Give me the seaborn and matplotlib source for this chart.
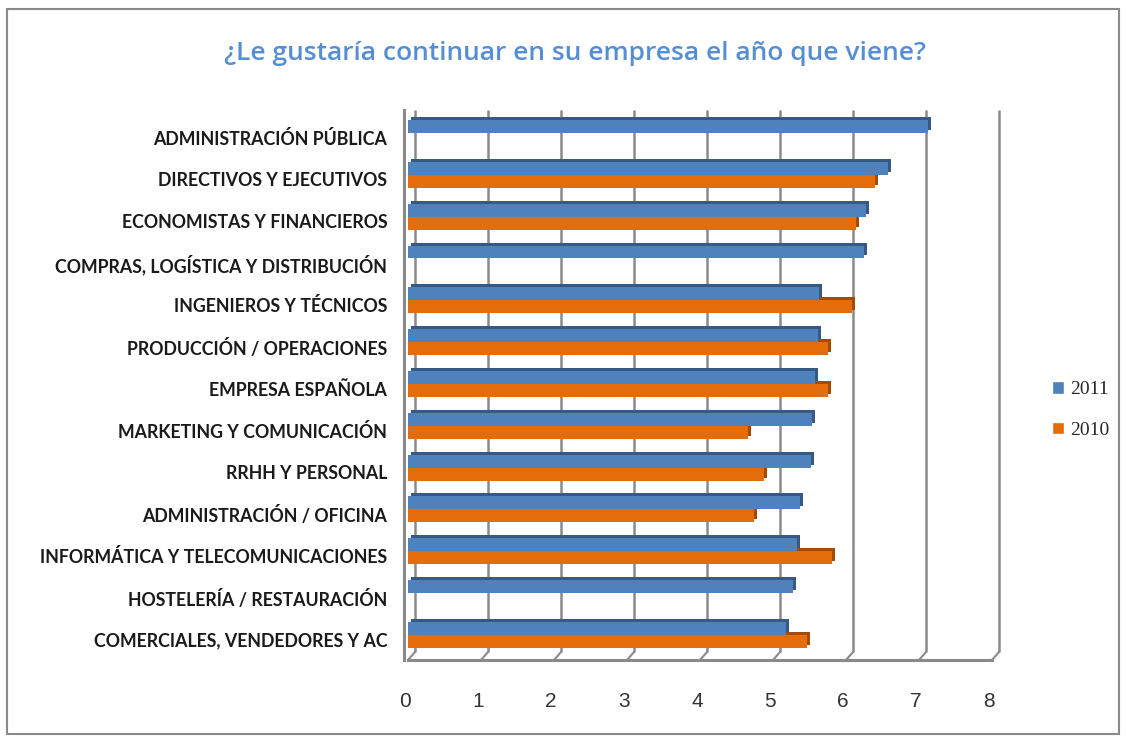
import numpy as np
import pandas as pd
import matplotlib
matplotlib.use("Agg")
import matplotlib.pyplot as plt
import matplotlib.transforms as mtransforms
from matplotlib.patches import Patch, Rectangle
import seaborn as sns

# data
categorias = [
    "ADMINISTRACIÓN PÚBLICA",
    "DIRECTIVOS Y EJECUTIVOS",
    "ECONOMISTAS Y FINANCIEROS",
    "COMPRAS, LOGÍSTICA Y DISTRIBUCIÓN",
    "INGENIEROS Y TÉCNICOS",
    "PRODUCCIÓN / OPERACIONES",
    "EMPRESA ESPAÑOLA",
    "MARKETING Y COMUNICACIÓN",
    "RRHH Y PERSONAL",
    "ADMINISTRACIÓN / OFICINA",
    "INFORMÁTICA Y TELECOMUNICACIONES",
    "HOSTELERÍA / RESTAURACIÓN",
    "COMERCIALES, VENDEDORES Y AC",
]
valores_2011 = [7.13, 6.58, 6.27, 6.24, 5.63, 5.62, 5.57, 5.54, 5.52, 5.37, 5.33, 5.27, 5.18]
valores_2010 = [np.nan, 6.40, 6.14, np.nan, 6.08, 5.75, 5.75, 4.66, 4.88, 4.74, 5.81, np.nan, 5.47]
anios = ["2011", "2010"]
ticks_x = [0, 1, 2, 3, 4, 5, 6, 7, 8]

titulo = "¿Le gustaría continuar en su empresa el año que viene?"

azul = "#4F81BD"
naranja = "#E46C0A"
gris = "#8a8a8a"

df = pd.DataFrame({
    "categoria": categorias * 2,
    "valor": valores_2011 + valores_2010,
    "anio": ["2011"] * len(categorias) + ["2010"] * len(categorias),
}).dropna()

sns.set_style("white")
plt.rcParams["font.family"] = ["Lato", "DejaVu Sans"]

W, H = 1126, 742
fig = plt.figure(figsize=(W / 100, H / 100), dpi=100)
# axes box in pixels: front plane of the 3d-looking plot area
left, right, top, bottom = 408, 992, 110, 660
ax = fig.add_axes([left / W, 1 - bottom / H, (right - left) / W, (bottom - top) / H])

sns.barplot(data=df, x="valor", y="categoria", hue="anio", hue_order=anios,
            order=categorias, palette=[azul, naranja], orient="h", width=0.62,
            errorbar=None, legend=False, saturation=1, ax=ax, zorder=3,
            edgecolor="none", linewidth=0)

ax.set_xlim(0, 8)
ax.set_ylim(12.6, -0.55)
ax.set_xticks(ticks_x)
ax.set_xlabel("")
ax.set_ylabel("")

# fake depth on the bars: darker copy shifted 3px up/right behind each bar
desplazamiento = mtransforms.ScaledTranslation(0.03, 0.03, fig.dpi_scale_trans)
for p in list(ax.patches):
    fc = np.array(p.get_facecolor()[:3]) * 0.7
    r = Rectangle(p.get_xy(), p.get_width(), p.get_height(),
                  transform=ax.transData + desplazamiento,
                  facecolor=fc, edgecolor="none", zorder=2.5)
    ax.add_patch(r)

# back wall gridlines, shifted up/right to imitate the excel 3d box
dx = 7 / ((right - left) / 8)
dy = 8 / (bottom - top)
xt = ax.get_xaxis_transform()
for k in ticks_x:
    ax.plot([k + dx, k + dx], [dy, 1], transform=xt, color=gris, lw=1.8,
            zorder=1, clip_on=False, solid_capstyle="butt")
    ax.plot([k, k + dx], [0, dy], transform=xt, color=gris, lw=1.5,
            zorder=1, clip_on=False)

for s in ["top", "right"]:
    ax.spines[s].set_visible(False)
for s in ["left", "bottom"]:
    ax.spines[s].set_color(gris)
    ax.spines[s].set_linewidth(2.2)
ax.spines["left"].set_position(("outward", 3))

ax.tick_params(axis="y", length=0, pad=12, labelsize=12.8, labelcolor="#1a1a1a")
ax.tick_params(axis="x", length=0, pad=23, labelsize=15, labelcolor="#333333")
for lab in ax.get_yticklabels():
    lab.set_fontweight("bold")
    lab.set_transform(lab.get_transform() +
                      mtransforms.ScaledTranslation(0, -0.045, fig.dpi_scale_trans))
for lab in ax.get_xticklabels():
    lab.set_family(["Liberation Sans", "DejaVu Sans"])
    lab.set_transform(lab.get_transform() +
                      mtransforms.ScaledTranslation(-0.03, 0, fig.dpi_scale_trans))

fig.text(575 / W, 1 - 60 / H, titulo, ha="center", va="baseline",
         fontsize=19, fontweight="semibold", color="#558ED5",
         family=["Open Sans", "DejaVu Sans"])

handles = [Patch(facecolor=azul, label="2011"), Patch(facecolor=naranja, label="2010")]
fig.legend(handles=handles, loc="center left", bbox_to_anchor=(1052 / W, 1 - 410 / H),
           frameon=False, prop={"family": ["Liberation Serif"], "size": 14},
           handlelength=0.6, handleheight=0.6, handletextpad=0.35, labelspacing=1.2,
           borderpad=0, borderaxespad=0)

fig.patches.append(Rectangle((7 / W, 8 / H), 1112 / W, 725 / H, transform=fig.transFigure,
                             fill=False, edgecolor=gris, lw=1.5))

fig.savefig("out.png", dpi=100)
